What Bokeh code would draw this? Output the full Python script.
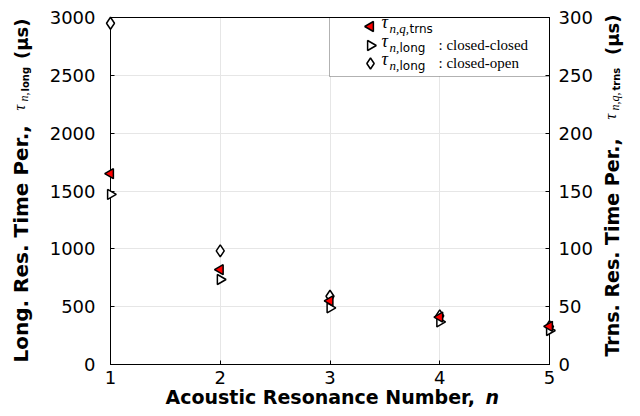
import math
from bokeh.plotting import figure
from bokeh.models import Range1d, LinearAxis, FixedTicker, BoxAnnotation, ColumnDataSource
from bokeh.embed import file_html
from bokeh.resources import INLINE

# ---- data ----
n_vals = [1, 2, 3, 4, 5]
tau_trns = [165, 82, 55, 41, 33]          # right axis (us)
tau_closed_closed = [1470, 735, 490, 368, 294]
tau_closed_open = [2950, 983, 590, 421, 328]
x_ticks = [1, 2, 3, 4, 5]
y_ticks = [0, 500, 1000, 1500, 2000, 2500, 3000]
y2_ticks = [0, 50, 100, 150, 200, 250, 300]

W, H = 640, 416
FL, FR, FT, FB = 110, 549, 17, 364
X0, X1, Y0, Y1 = 1, 5, 0, 3000

p = figure(width=W, height=H, output_backend="svg", toolbar_location=None,
           x_range=Range1d(X0, X1), y_range=Range1d(Y0, Y1),
           min_border_left=FL, min_border_right=W - FR,
           min_border_top=FT, min_border_bottom=H - FB)
bottom_ax = p.below[0]
left_ax = p.left[0]
p.extra_y_ranges = {"trns": Range1d(0, 300)}
ax2 = LinearAxis(y_range_name="trns", ticker=FixedTicker(ticks=y2_ticks))
p.add_layout(ax2, "right")
bottom_ax.ticker = FixedTicker(ticks=x_ticks)
left_ax.ticker = FixedTicker(ticks=y_ticks)

for ax in [bottom_ax, left_ax, ax2]:
    ax.axis_line_color = "black"
    ax.major_tick_line_color = "black"
    ax.major_tick_in = 4
    ax.major_tick_out = 0
    ax.minor_tick_line_color = None
    ax.major_label_text_font = "DejaVu Sans"
    ax.major_label_text_font_size = "18px"
    ax.major_label_text_color = "black"
bottom_ax.major_label_standoff = 6
left_ax.major_label_standoff = 15
ax2.major_label_standoff = 9

p.xgrid.ticker = FixedTicker(ticks=x_ticks)
p.ygrid.ticker = FixedTicker(ticks=y_ticks)
p.grid.grid_line_color = "#e6e6e6"
p.outline_line_color = "black"
p.background_fill_color = "white"
p.border_fill_color = "white"

# frame top border
top_line = p.segment(x0=[X0], y0=[Y1], x1=[X1], y1=[Y1], line_color="black", line_width=1)
top_line.level = "overlay"

src = ColumnDataSource(dict(n=n_vals, trns=tau_trns, cc=tau_closed_closed, co=tau_closed_open))
r1 = p.scatter("n", "co", source=src, marker="diamond", size=12, fill_color="white",
               line_color="black", line_width=1.5)
r2 = p.scatter("n", "cc", source=src, marker="triangle", angle=-math.pi / 2, size=10,
               fill_color="white", line_color="black", line_width=1.5)
r3 = p.scatter("n", "trns", source=src, y_range_name="trns", marker="triangle",
               angle=math.pi / 2, size=10, fill_color="#ff0000", line_color="black", line_width=1.5)
for r in (r1, r2, r3):
    r.level = "overlay"


def xd(px):
    return X0 + (px - FL) / (FR - FL) * (X1 - X0)


def yd(py):
    return Y1 - (py - FT) / (FB - FT) * (Y1 - Y0)


T = dict(x=[], y=[], text=[], font=[], size=[], style=[], align=[], angle=[])
A = math.pi / 2


def lab(text, px, py, size, font="DejaVu Sans", style="normal", align="left", rot=False):
    """px/py: start (or end) of the text on its baseline, in canvas pixels."""
    if rot:
        px = px - 0.345 * size
    else:
        py = py - 0.345 * size
    T["x"].append(xd(px)); T["y"].append(yd(py)); T["text"].append(text)
    T["font"].append(font); T["size"].append(f"{size}px"); T["style"].append(style)
    T["align"].append(align); T["angle"].append(A if rot else 0.0)


# ---- legend ----
box = BoxAnnotation(left=xd(329), right=xd(FR), top=yd(FT), bottom=yd(76),
                    fill_color="white", fill_alpha=1, line_color="black", line_width=1,
                    level="underlay")
p.add_layout(box)
leg = ColumnDataSource(dict(x=[xd(370)] * 3, y=[yd(26), yd(45), yd(63)],
                            m=["triangle", "triangle", "diamond"],
                            a=[math.pi / 2, -math.pi / 2, 0.0],
                            f=["#ff0000", "white", "white"],
                            s=[10, 10, 11]))
lr = p.scatter("x", "y", source=leg, marker="m", angle="a", size="s", fill_color="f",
               line_color="black", line_width=1.5)
lr.level = "overlay"

SERIF = "Liberation Serif"
rows = [(28, 32.5, [("n,q,", SERIF, "italic"), ("trns", "DejaVu Sans", "normal")], None),
        (47, 51.5, [("n,", SERIF, "italic"), ("long", "DejaVu Sans", "normal")], ": closed-closed"),
        (65, 69.5, [("n,", SERIF, "italic"), ("long", "DejaVu Sans", "normal")], ": closed-open")]
for tb, sb, subs, tail in rows:
    lab("τ", 381, tb, 18, font=SERIF, style="italic")
    sx = 389
    for txt, fnt, st in subs:
        lab(txt, sx, sb, 13 if fnt == SERIF else 12, font=fnt, style=st)
        sx += (len(txt) * 5.0 if fnt == SERIF else len(txt) * 7.5)
    if tail:
        lab(tail, 438, tb + 3, 15, font=SERIF)

# ---- x axis title ----
lab("Acoustic Resonance Number,", 165, 403, 19, style="bold")
lab("n", 485, 403, 19, style="bold italic")

# ---- left y title (rotated, reads upward) ----
lab("Long. Res.  Time Per.,", 27, 362, 20, style="bold", rot=True)
lab("τ", 25, 110, 16, font=SERIF, style="italic", rot=True)
lab("n,", 28, 101, 12, font=SERIF, style="italic", rot=True)
lab("long", 28, 91, 10, style="bold", rot=True)
lab("(µs)", 27, 18, 18, style="bold", align="right", rot=True)

# ---- right y title (rotated, reads upward) ----
lab("Trns. Res.  Time Per.,", 618, 356, 19, style="bold", rot=True)
lab("τ", 616, 119, 16, font=SERIF, style="italic", rot=True)
lab("n,q,", 619, 110, 12, font=SERIF, style="italic", rot=True)
lab("trns", 619, 90, 10, style="bold", rot=True)
lab("(µs)", 618, 14, 18, style="bold", align="right", rot=True)

tr = p.text("x", "y", text="text", source=ColumnDataSource(T), text_font="font",
            text_font_size="size", text_font_style="style", text_align="align",
            text_baseline="middle", angle="angle", text_color="black")
tr.level = "overlay"

open("out.html", "w").write(file_html(p, INLINE))
